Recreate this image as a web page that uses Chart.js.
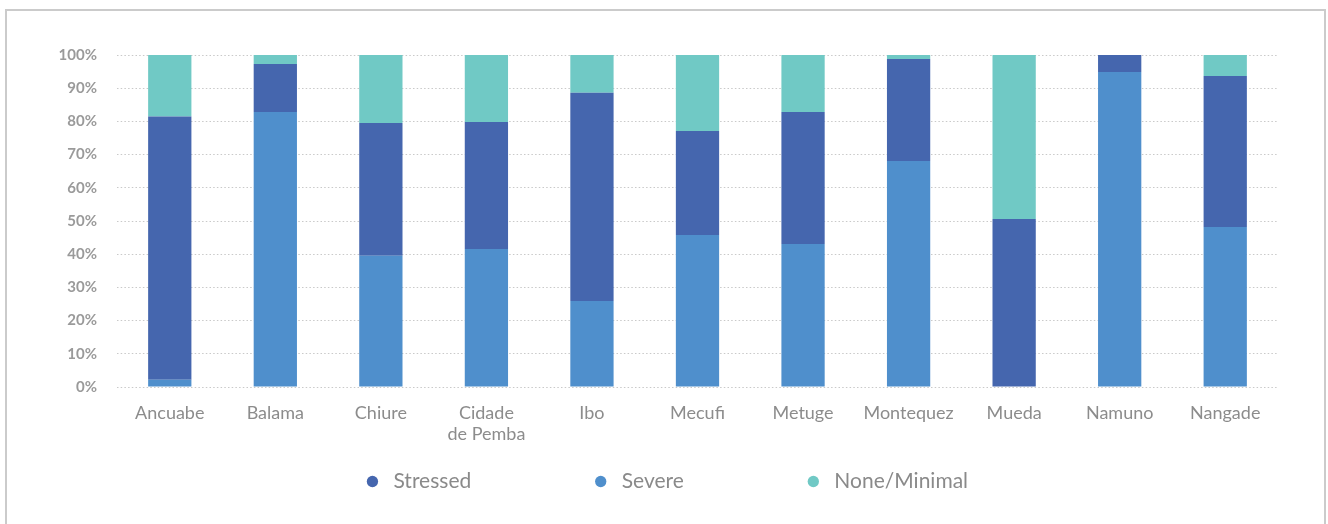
<!DOCTYPE html>
<html>
<head>
<meta charset="utf-8">
<script src="https://cdn.jsdelivr.net/npm/chart.js@4"></script>
<style>
  html, body { margin: 0; padding: 0; background: #fff; overflow: hidden; }
  #wrap { position: relative; width: 1328px; height: 524px; }
  #frame { position: absolute; left: 5px; top: 9px; width: 1321px; height: 600px; box-sizing: border-box;
           border: 2px solid #cbcbcb; border-bottom: none; }
  #c { position: absolute; left: 0; top: 0; }
</style>
</head>
<body>
<div id="wrap">
  <div id="frame"></div>
  <canvas id="c" width="1328" height="524"></canvas>
</div>
<script>
const categories = ['Ancuabe', 'Balama', 'Chiure', ['Cidade', 'de Pemba'], 'Ibo', 'Mecufi', 'Metuge', 'Montequez', 'Mueda', 'Namuno', 'Nangade'];
const stressed = [79.3, 14.5, 40.0, 38.2, 62.7, 31.3, 39.7, 30.7, 50.6, 5.1, 45.5];
const severe   = [2.2, 82.8, 39.5, 41.6, 25.9, 45.8, 43.1, 68.1, 0, 94.9, 48.2];
const noneMin  = [18.5, 2.7, 20.5, 20.2, 11.4, 22.9, 17.2, 1.2, 49.4, 0, 6.3];
const yTicks = [0, 10, 20, 30, 40, 50, 60, 70, 80, 90, 100];

const FONT = 'Lato, "Open Sans", sans-serif';
const LEGEND_PAD = 119;
const LEGEND_FONT = 21;

const legendMover = {
  id: 'legendMover',
  afterLayout(chart) {
    const lg = chart.legend;
    if (!lg) return;
    lg.top = 481.5 - LEGEND_FONT / 2 - LEGEND_PAD;
    lg.bottom = 524;
    lg.height = lg.bottom - lg.top;
    lg.left = 25;
    lg.right = 1305;
    lg.width = lg.right - lg.left;
  }
};

new Chart(document.getElementById('c'), {
  type: 'bar',
  data: {
    labels: categories,
    datasets: [
      { label: 'Stressed', data: stressed, backgroundColor: '#4566ae', order: 1 },
      { label: 'Severe', data: severe, backgroundColor: '#4f8fcc', order: 0 },
      { label: 'None/Minimal', data: noneMin, backgroundColor: '#70c9c5', order: 2 }
    ]
  },
  options: {
    responsive: false,
    animation: false,
    layout: { padding: { top: 55, right: 50, left: 0, bottom: 0 } },
    datasets: { bar: { categoryPercentage: 1, barPercentage: 0.41, borderWidth: 0 } },
    scales: {
      x: {
        stacked: true,
        grid: { display: false, drawTicks: false },
        border: { display: false },
        ticks: { color: '#8c8c8c', font: { family: FONT, size: 18 }, padding: 15, maxRotation: 0, autoSkip: false },
        afterFit(scale) { scale.height = 77; }
      },
      y: {
        stacked: true,
        min: 0, max: 100,
        afterBuildTicks(scale) { scale.ticks = yTicks.map(v => ({ value: v })); },
        grid: { color: '#c9c9c9', drawTicks: false, lineWidth: 1 },
        border: { display: false, dash: [1.5, 2.2] },
        ticks: { color: '#9a9a9a', font: { family: FONT, size: 15, weight: 'bold' }, padding: 20,
                 callback: v => v + '%' },
        afterFit(scale) { scale.width = 117; }
      }
    },
    plugins: {
      tooltip: { enabled: false },
      legend: {
        position: 'bottom',
        maxHeight: 60,
        labels: {
          usePointStyle: true,
          pointStyle: 'circle',
          boxWidth: 21,
          boxHeight: 8,
          padding: LEGEND_PAD,
          color: '#8a8a8a',
          font: { family: FONT, size: LEGEND_FONT },
          sort: (a, b) => a.datasetIndex - b.datasetIndex
        }
      }
    }
  },
  plugins: [legendMover]
});
</script>
</body>
</html>
